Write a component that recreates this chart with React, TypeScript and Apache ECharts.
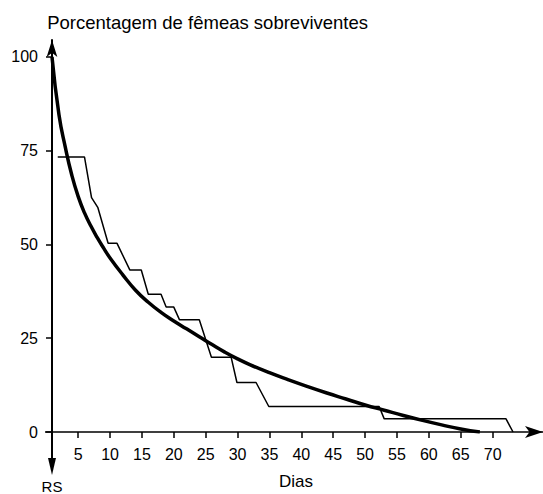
import React, { useEffect, useRef } from "react";
import * as echarts from "echarts";

const curveDays = [0.9, 2, 3, 4, 5, 6, 7, 8, 9, 10, 12, 14, 16, 18, 20, 22, 24, 26, 28, 30, 32, 35, 38, 41, 44, 47, 50, 53, 56, 59, 62, 65, 68];
const curveVals = [100, 84.5, 75.8, 68.5, 62.8, 58.4, 54.9, 51.8, 49, 46.4, 41.9, 37.8, 34.6, 31.9, 29.6, 27.5, 25.4, 23.3, 21.3, 19.5, 17.9, 15.8, 13.9, 12.1, 10.4, 8.8, 7.2, 5.8, 4.4, 3.1, 1.9, 0.8, 0];

const stepDays = [1.8, 6.0, 7.1, 8.1, 9.7, 11.1, 13.1, 14.9, 16.0, 18.0, 18.8, 20.0, 20.9, 24.0, 25.9, 29.0, 29.9, 32.9, 34.9, 52.2, 53.0, 72.1, 73.2];
const stepVals = [73.3, 73.3, 62.5, 59.8, 50.3, 50.3, 43.2, 43.2, 36.7, 36.7, 33.3, 33.3, 29.9, 29.9, 19.9, 19.9, 13.2, 13.2, 6.8, 6.8, 3.5, 3.5, 0];

const xTicks = [5, 10, 15, 20, 25, 30, 35, 40, 45, 50, 55, 60, 65, 70];
const yTicks = [0, 25, 50, 75, 100];

const titleText = "Porcentagem de fêmeas sobreviventes";
const xName = "Dias";
const rsLabel = "RS";

const FONT = "Liberation Sans";

export default function App() {
  const ref = useRef<HTMLDivElement>(null);
  useEffect(() => {
    if (!ref.current) return;
    const chart = echarts.init(ref.current, undefined, { renderer: "svg" });
    const curve = curveDays.map((d, i) => [d, curveVals[i]]);
    const steps = stepDays.map((d, i) => [d, stepVals[i]]);
    chart.setOption({
      animation: false,
      backgroundColor: "#ffffff",
      textStyle: { fontFamily: FONT },
      grid: { left: 52, right: 0, top: 40, height: 392, containLabel: false },
      xAxis: {
        type: "value",
        min: 0.9,
        max: 77.9,
        splitLine: { show: false },
        axisLine: {
          lineStyle: { color: "#000", width: 1.5 },
          symbol: ["none", "arrow"],
          symbolSize: [9, 18],
        },
        axisTick: { show: true, length: 6, customValues: xTicks, lineStyle: { color: "#000", width: 1.5 } },
        axisLabel: { customValues: xTicks, color: "#000", fontSize: 16, margin: 14, fontFamily: FONT },
      },
      yAxis: {
        type: "value",
        min: 0,
        max: 104.5,
        splitLine: { show: false },
        axisLine: {
          show: true,
          onZero: false,
          lineStyle: { color: "#000", width: 2 },
          symbol: ["none", "arrow"],
          symbolSize: [8, 17],
        },
        axisTick: { show: true, length: 6, customValues: yTicks, lineStyle: { color: "#000", width: 1.5 } },
        axisLabel: { customValues: yTicks, color: "#000", fontSize: 16, margin: 14, fontFamily: FONT },
      },
      graphic: [
        { type: "text", x: 368, y: 22, style: { text: titleText, fontSize: 18.5, fill: "#000", fontFamily: FONT, align: "right", verticalAlign: "middle" } },
        { type: "text", x: 296, y: 481, style: { text: xName, fontSize: 17, fill: "#000", fontFamily: FONT, align: "center", verticalAlign: "middle" } },
        { type: "text", x: 52, y: 486, style: { text: rsLabel, fontSize: 15, fill: "#000", fontFamily: FONT, align: "center", verticalAlign: "middle" } },
        { type: "line", shape: { x1: 52, y1: 432, x2: 52, y2: 462 }, style: { stroke: "#000", lineWidth: 2 } },
        { type: "polygon", shape: { points: [[48, 458], [56, 458], [52, 475]] }, style: { fill: "#000" } },
        { type: "line", shape: { x1: 45, y1: 432, x2: 52, y2: 432 }, style: { stroke: "#000", lineWidth: 1.5 } },
      ],
      series: [
        {
          type: "line",
          data: steps,
          showSymbol: false,
          lineStyle: { color: "#000", width: 1.5 },
          z: 2,
        },
        {
          type: "line",
          data: curve,
          smooth: 0.5,
          showSymbol: false,
          lineStyle: { color: "#000", width: 3.5 },
          z: 3,
        },
      ],
    });
    return () => chart.dispose();
  }, []);
  return <div ref={ref} style={{ width: 543, height: 494, position: "absolute", left: 0, top: 0 }} />;
}
